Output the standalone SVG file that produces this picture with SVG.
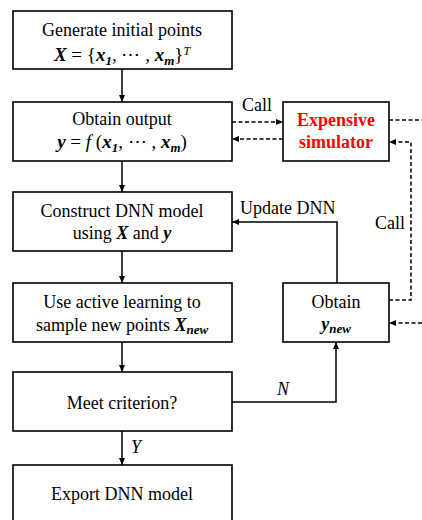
<svg xmlns="http://www.w3.org/2000/svg" width="422" height="520" viewBox="0 0 422 520">
<style>
.box{fill:#fff;stroke:#000;stroke-width:1.6}
.t{font-family:"Liberation Serif","Times New Roman",serif;font-size:18px;fill:#000;text-anchor:middle}
.m{font-size:19px}
.lbl{font-family:"Liberation Serif","Times New Roman",serif;font-size:18px;fill:#000}
.bi{font-weight:bold;font-style:italic}
.it{font-style:italic}
.red{fill:#ff0000;font-weight:bold}
.ln{fill:none;stroke:#000;stroke-width:1.5}
.dash{fill:none;stroke:#000;stroke-width:1.5;stroke-dasharray:4 2.5}
</style>
<defs>
<marker id="ah" markerUnits="userSpaceOnUse" markerWidth="8" markerHeight="7" refX="7" refY="3" orient="auto">
<path d="M0,0 L7,3 L0,6 z" fill="#000"/>
</marker>
</defs>
<g id="connectors">
<line class="ln" x1="122" y1="69" x2="122" y2="102" marker-end="url(#ah)"/>
<line class="ln" x1="122" y1="161" x2="122" y2="192" marker-end="url(#ah)"/>
<line class="ln" x1="122" y1="251" x2="122" y2="283" marker-end="url(#ah)"/>
<line class="ln" x1="122" y1="342" x2="122" y2="372" marker-end="url(#ah)"/>
<line class="ln" x1="122" y1="431" x2="122" y2="465" marker-end="url(#ah)"/>
<line class="dash" x1="232" y1="122" x2="283" y2="122" marker-end="url(#ah)"/>
<line class="dash" x1="283" y1="139" x2="232" y2="139" marker-end="url(#ah)"/>
<line class="dash" x1="389" y1="120" x2="422" y2="120"/>
<path class="dash" d="M389,300 L411,300 L411,142 L389,142" marker-end="url(#ah)"/>
<line class="dash" x1="422" y1="323" x2="389" y2="323" marker-end="url(#ah)"/>
<path class="ln" d="M337,283 L337,222 L232,222" marker-end="url(#ah)"/>
<path class="ln" d="M232,402 L336,402 L336,342" marker-end="url(#ah)"/>
<text class="lbl" x="242" y="111">Call</text>
<text class="lbl" x="375" y="229" font-size="17">Call</text>
<text class="lbl" x="240" y="214">Update DNN</text>
<text class="lbl it" x="277" y="395">N</text>
<text class="lbl it" x="131" y="453">Y</text>
</g>
<g id="n1">
<rect class="box" x="13" y="11" width="219" height="58"/>
<text class="t" x="122" y="36">Generate initial points</text>
<text class="t m" x="122" y="61"><tspan class="bi">X</tspan> = {<tspan class="bi">x</tspan><tspan class="bi" font-size="13" dy="4">1</tspan><tspan dy="-4">, ⋯ , </tspan><tspan class="bi">x</tspan><tspan class="bi" font-size="13" dy="4">m</tspan><tspan dy="-4">}</tspan><tspan class="it" font-size="12" dy="-6">T</tspan></text>
</g>
<g id="n2">
<rect class="box" x="13" y="102" width="219" height="59"/>
<text class="t" x="122" y="125">Obtain output</text>
<text class="t m" x="122" y="148"><tspan class="bi">y</tspan> = <tspan class="it">f</tspan> (<tspan class="bi">x</tspan><tspan class="bi" font-size="13" dy="4">1</tspan><tspan dy="-4">, ⋯ , </tspan><tspan class="bi">x</tspan><tspan class="bi" font-size="13" dy="4">m</tspan><tspan dy="-4">)</tspan></text>
</g>
<g id="sim">
<rect class="box" x="283" y="102" width="106" height="59"/>
<text class="t red" x="336" y="126">Expensive</text>
<text class="t red" x="336" y="148">simulator</text>
</g>
<g id="n3">
<rect class="box" x="13" y="192" width="219" height="59"/>
<text class="t" x="122" y="217">Construct DNN model</text>
<text class="t" x="122" y="239">using <tspan class="bi">X</tspan> and <tspan class="bi">y</tspan></text>
</g>
<g id="n4">
<rect class="box" x="13" y="283" width="219" height="59"/>
<text class="t" x="122" y="308">Use active learning to</text>
<text class="t" x="122" y="331">sample new points <tspan class="bi">X</tspan><tspan class="bi" font-size="13" dy="3">new</tspan></text>
</g>
<g id="obtain">
<rect class="box" x="283" y="283" width="106" height="59"/>
<text class="t" x="336" y="308">Obtain</text>
<text class="t" x="336" y="330"><tspan class="bi">y</tspan><tspan class="bi" font-size="13" dy="3">new</tspan></text>
</g>
<g id="n5">
<rect class="box" x="13" y="372" width="219" height="59"/>
<text class="t" x="122" y="409">Meet criterion?</text>
</g>
<g id="n6">
<rect class="box" x="13" y="465" width="219" height="60"/>
<text class="t" x="122" y="500">Export DNN model</text>
</g>
</svg>
